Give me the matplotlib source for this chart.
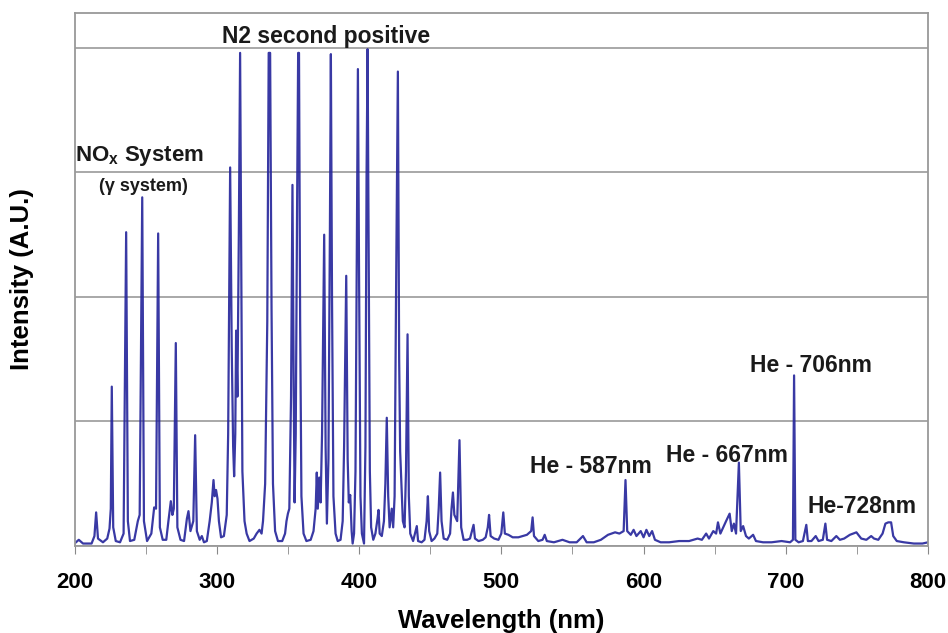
import matplotlib
matplotlib.use("Agg")
import matplotlib.pyplot as plt
from matplotlib.ticker import MultipleLocator, NullFormatter

plt.rcParams["font.family"] = ["Liberation Sans", "DejaVu Sans"]
plt.rcParams["font.weight"] = "bold"
plt.rcParams["mathtext.fontset"] = "custom"
plt.rcParams["mathtext.rm"] = "Liberation Sans:bold"
plt.rcParams["mathtext.bf"] = "Liberation Sans:bold"

# spectrum vertices (nm, intensity in grid units)
wavelength = [
    200, 203, 206, 212, 214, 215.2, 216.5, 220, 223, 224.6, 225.5, 226.2, 227.2, 229, 232,
    234.5, 236.3, 237.5, 239, 242, 244.5, 245.8, 247.6, 248.8, 251, 254, 256, 257.3, 258.8,
    260, 262, 264.5, 266, 267.7, 268.8, 269.8, 271.2, 272.3, 274.5, 277, 279, 280.1, 281.5,
    283.5, 284.8, 286, 288, 289.5, 291, 293, 295, 296.5, 297.7, 298.5, 299.5, 300.5, 301.5,
    303, 305, 307, 308, 309.4, 310.5, 311.5, 312.2, 313, 313.6, 314.5, 315.5, 316.4, 317.2,
    318, 319.5, 321, 323, 326, 328, 330, 331.5, 332.5, 334, 335.5, 336.5, 337.5, 338.5,
    339.5, 341, 343, 346, 348, 349, 350, 351, 352.2, 353.2, 354, 354.7, 355.5, 356.5, 357.2,
    357.8, 358.6, 359.5, 361, 363, 366, 368, 369.5, 370.3, 371, 372, 373, 374, 375.5, 376.5,
    377.4, 378.5, 379.5, 380.2, 381, 382, 383.5, 385, 387, 388.5, 389.5, 391, 392, 392.8,
    393.8, 394.8, 395.5, 396.5, 397.5, 398.5, 399.2, 400, 401, 402, 403.5, 404.5, 405.3,
    406, 406.8, 407.6, 408.5, 410, 411.5, 413, 413.7, 414.5, 416, 417.5, 418.5, 419.5,
    420.5, 421.5, 423, 424, 425, 426, 427.3, 428.2, 428.9, 429.8, 430.8, 432, 433, 434.1,
    435, 436, 438, 440.6, 441.5, 444, 446, 447.5, 448.4, 449.3, 451, 453, 455, 456, 457,
    458, 459.5, 462, 464, 465, 466, 467, 469, 470.6, 471.8, 473.5, 476, 478, 480.5, 481.5,
    484, 487, 489, 490.5, 491.4, 492.5, 495, 498, 500, 501.4, 502.5, 505, 508, 512, 515,
    518, 521, 522, 523, 526, 529, 530.5, 532, 537, 543, 548, 553, 557.4, 560, 565, 570,
    575, 580, 583, 586, 587.3, 588.5, 591, 593, 595, 598, 600, 602, 604, 606, 608, 612,
    618, 625, 632, 638, 641, 644, 646, 649, 651, 652.3, 654, 656, 658, 660.5, 662, 663.5,
    665, 667, 668.3, 670, 672, 674, 677, 679, 684, 690, 697, 703, 705, 705.8, 706.7, 709,
    712, 714.4, 715.5, 718, 721, 723, 726, 727.8, 729, 732, 735.5, 738, 741, 745, 749.6,
    753, 756.6, 760, 762, 765, 768, 770, 772, 774, 775.5, 778, 783, 790, 796, 800,
]
intensity = [
    0.02, 0.05, 0.02, 0.02, 0.08, 0.27, 0.06, 0.03, 0.06, 0.14, 0.30, 1.28, 0.15, 0.04, 0.03,
    0.10, 2.52, 0.20, 0.04, 0.05, 0.20, 0.25, 2.80, 0.20, 0.04, 0.10, 0.31, 0.30, 2.51,
    0.15, 0.05, 0.05, 0.20, 0.36, 0.25, 0.30, 1.63, 0.15, 0.05, 0.04, 0.22, 0.28, 0.12,
    0.20, 0.89, 0.12, 0.05, 0.08, 0.03, 0.04, 0.20, 0.35, 0.53, 0.40, 0.45, 0.38, 0.20,
    0.07, 0.08, 0.25, 0.90, 3.04, 1.60, 0.80, 0.56, 0.90, 1.73, 1.20, 2.50, 3.96, 2.20,
    0.60, 0.20, 0.10, 0.04, 0.06, 0.10, 0.13, 0.10, 0.20, 0.50, 1.80, 3.96, 3.96, 1.90,
    0.50, 0.12, 0.04, 0.04, 0.10, 0.20, 0.26, 0.30, 1.20, 2.90, 1.40, 0.35, 0.90, 2.80, 3.96,
    3.96, 1.80, 0.40, 0.10, 0.04, 0.05, 0.12, 0.30, 0.59, 0.30, 0.55, 0.35, 0.90, 2.50, 0.80,
    0.18, 0.70, 2.50, 3.95, 2.00, 0.40, 0.10, 0.04, 0.05, 0.20, 0.80, 2.17, 0.70, 0.35,
    0.41, 0.12, 0.02, 0.10, 0.60, 2.50, 3.83, 2.20, 0.40, 0.10, 0.02, 0.80, 3.00,
    3.99, 2.30, 0.60, 0.15, 0.05, 0.10, 0.22, 0.29, 0.10, 0.08, 0.20, 0.50, 1.03,
    0.40, 0.15, 0.30, 0.15, 0.40, 2.00, 3.81, 1.50, 0.76, 0.50, 0.20, 0.15, 0.60, 1.70,
    0.40, 0.10, 0.04, 0.16, 0.04, 0.03, 0.05, 0.20, 0.40, 0.12, 0.04, 0.06, 0.10, 0.30, 0.59,
    0.20, 0.06, 0.05, 0.10, 0.30, 0.43, 0.25, 0.20, 0.85, 0.15, 0.05, 0.05, 0.06, 0.17, 0.06,
    0.04, 0.05, 0.07, 0.15, 0.25, 0.08, 0.06, 0.05, 0.10, 0.27, 0.10, 0.09, 0.07, 0.07, 0.08,
    0.09, 0.12, 0.23, 0.08, 0.04, 0.05, 0.09, 0.04, 0.03, 0.05, 0.03, 0.03, 0.08, 0.03, 0.03, 0.05,
    0.09, 0.11, 0.10, 0.12, 0.53, 0.12, 0.09, 0.13, 0.08, 0.12, 0.07, 0.13, 0.08, 0.12, 0.05, 0.03,
    0.03, 0.04, 0.04, 0.06, 0.05, 0.10, 0.06, 0.12, 0.10, 0.19, 0.10, 0.15, 0.20, 0.26, 0.12, 0.18,
    0.10, 0.67, 0.12, 0.16, 0.08, 0.06, 0.09, 0.04, 0.03, 0.03, 0.04, 0.03, 0.05, 1.37, 0.05, 0.03,
    0.04, 0.17, 0.04, 0.04, 0.08, 0.04, 0.05, 0.18, 0.05, 0.04, 0.08, 0.05, 0.06, 0.09, 0.11,
    0.06, 0.05, 0.08, 0.06, 0.05, 0.10, 0.18, 0.19, 0.19, 0.08, 0.04, 0.03, 0.02, 0.02, 0.03,
]

# annotation labels: (text, x, y, size, alignment)
labels = [
    ("N2 second positive", 377, 4.09, 16.5, "center"),
    (r"NO$_\mathbf{x}$ System", 200.5, 3.13, 16, "left"),
    ("(\u03b3 system)", 248.5, 2.89, 13, "center"),
    ("He - 587nm", 520.5, 0.64, 16.5, "left"),
    ("He - 667nm", 615.5, 0.73, 16.5, "left"),
    ("He - 706nm", 674.5, 1.45, 16.5, "left"),
    ("He-728nm", 715, 0.32, 16.5, "left"),
]

fig = plt.figure(figsize=(9.48, 6.33), dpi=100)
ax = fig.add_axes([0.0786, 0.1374, 0.9004, 0.842])

ax.plot(wavelength, intensity, color="#23239a", lw=1.6, alpha=0.9)

ax.set_xlim(200, 800)
ax.set_ylim(0, 4.28)
ax.xaxis.set_major_locator(MultipleLocator(100))
ax.xaxis.set_minor_locator(MultipleLocator(50))
ax.yaxis.set_major_locator(MultipleLocator(1))
ax.yaxis.set_major_formatter(NullFormatter())
ax.tick_params(axis="y", length=0)
ax.tick_params(axis="x", which="both", direction="out", length=6, color="#888888",
               labelsize=16, pad=13)
ax.grid(axis="y", color="#a8a8a8", lw=1.4)
ax.set_axisbelow(True)
for s in ax.spines.values():
    s.set_color("#999999")
    s.set_linewidth(1.3)

for txt, x, y, size, ha in labels:
    ax.text(x, y, txt, fontsize=size, fontweight="bold", ha=ha, va="center", color="#1a1a1a")

ax.set_xlabel("Wavelength (nm)", fontsize=18.5, fontweight="bold", labelpad=11)
ax.set_ylabel("Intensity (A.U.)", fontsize=18.5, fontweight="bold", labelpad=26)

fig.savefig("out.png", dpi=100)
